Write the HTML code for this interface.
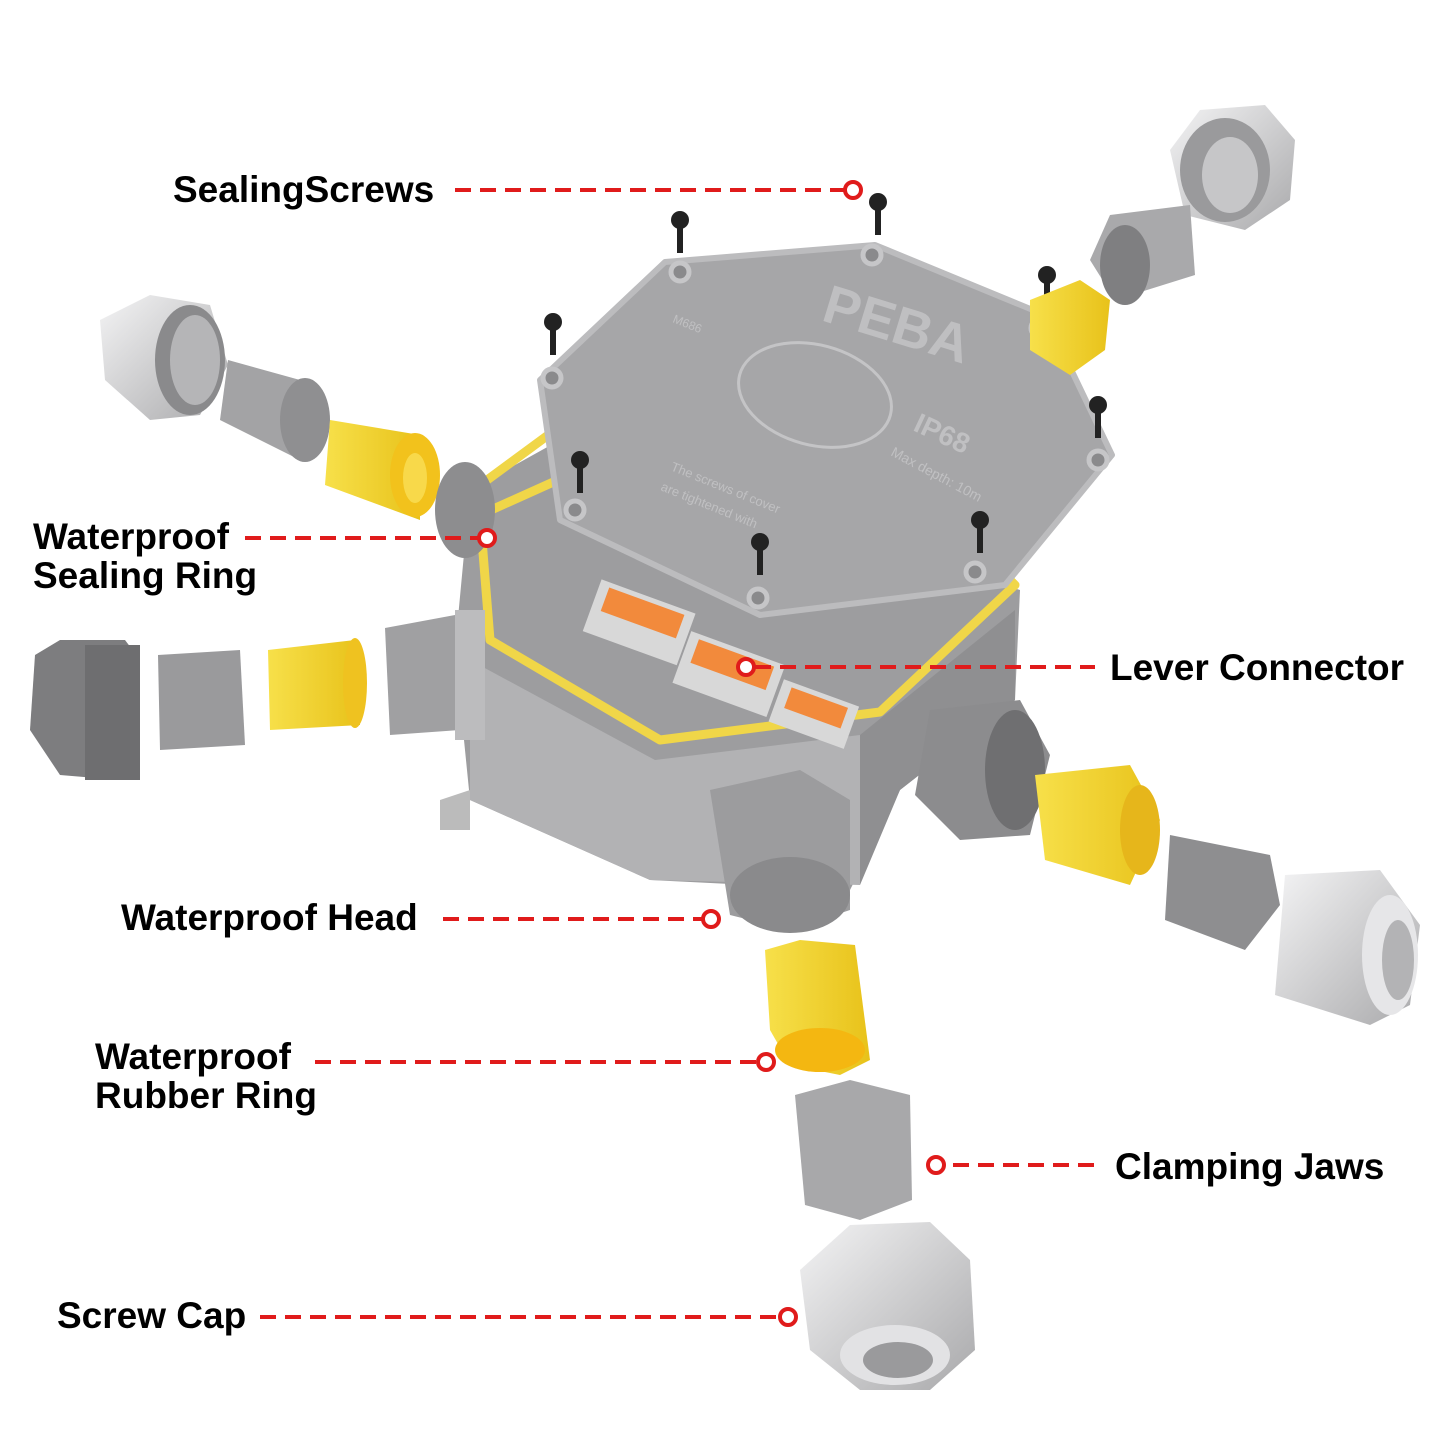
<!DOCTYPE html>
<html><head><meta charset="utf-8"><style>
html,body{margin:0;padding:0;background:#fff;}
svg{display:block}
.t{font-family:"Liberation Sans",Arial,sans-serif;font-weight:bold;font-size:37px;fill:#000}
.d{stroke:#e01b1b;stroke-width:4;stroke-dasharray:16 9;fill:none}
.c{stroke:#e01b1b;stroke-width:4;fill:#fff}
</style></head><body>
<svg width="1445" height="1445" viewBox="0 0 1445 1445" xmlns="http://www.w3.org/2000/svg">
<defs>
<linearGradient id="g1" x1="0" y1="0" x2="1" y2="1"><stop offset="0" stop-color="#c8c8ca"/><stop offset="1" stop-color="#8e8e90"/></linearGradient>
<linearGradient id="y1" x1="0" y1="0" x2="1" y2="0"><stop offset="0" stop-color="#f7e04a"/><stop offset="1" stop-color="#e8c21a"/></linearGradient>
<linearGradient id="w1" x1="0" y1="0" x2="1" y2="1"><stop offset="0" stop-color="#f4f4f5"/><stop offset="1" stop-color="#a9a9ab"/></linearGradient>
</defs>

<polygon points="455,650 470,490 560,440 1020,590 1015,700 900,790 850,890 650,880 470,800" fill="#9d9d9f"/>
<polygon points="470,660 655,760 860,735 860,885 650,880 470,800" fill="#b2b2b4"/>
<polygon points="860,735 1015,610 1015,700 900,790 860,885" fill="#8f8f91"/>
<polygon points="440,800 470,790 470,830 440,830" fill="#bbb"/>
<polyline points="460,500 555,430 600,445 580,470 480,515 490,640 660,740 880,712 1015,585 1010,580" fill="none" stroke="#f0d648" stroke-width="9" stroke-linejoin="round"/>
<g transform="rotate(20 640 620)"><rect x="590" y="595" width="100" height="55" fill="#d8d8d8"/><rect x="600" y="600" width="80" height="25" fill="#f28a3c"/></g>
<g transform="rotate(20 725 670)"><rect x="680" y="645" width="100" height="55" fill="#d8d8d8"/><rect x="690" y="650" width="80" height="25" fill="#f28a3c"/></g>
<g transform="rotate(20 810 710)"><rect x="775" y="690" width="80" height="45" fill="#d8d8d8"/><rect x="785" y="695" width="60" height="22" fill="#f28a3c"/></g>

<polygon points="540,380 665,262 875,245 1045,315 1112,455 1005,585 760,615 560,520" fill="#a6a6a8" stroke="#bcbcbe" stroke-width="6" stroke-linejoin="round"/>
<ellipse cx="815" cy="395" rx="78" ry="50" fill="none" stroke="#c4c4c6" stroke-width="3" transform="rotate(15 815 395)"/>
<text x="820" y="320" transform="rotate(17 820 320)" font-family="Liberation Sans,sans-serif" font-weight="bold" font-size="54" fill="#bfbfc1">PEBA</text>
<text x="912" y="430" transform="rotate(25 912 430)" font-family="Liberation Sans,sans-serif" font-weight="bold" font-size="28" fill="#c0c0c2">IP68</text>
<text x="890" y="455" transform="rotate(28 890 455)" font-family="Liberation Sans,sans-serif" font-size="14" fill="#c0c0c2">Max depth: 10m</text>
<text x="672" y="322" transform="rotate(22 672 322)" font-family="Liberation Sans,sans-serif" font-size="12" fill="#c0c0c2">M686</text>
<text x="670" y="470" transform="rotate(22 670 470)" font-family="Liberation Sans,sans-serif" font-size="13" fill="#c0c0c2">The screws of cover</text>
<text x="660" y="490" transform="rotate(22 660 490)" font-family="Liberation Sans,sans-serif" font-size="13" fill="#c0c0c2">are tightened with</text>
<g fill="#8a8a8c" stroke="#c6c6c8" stroke-width="5">
<circle cx="680" cy="272" r="9"/><circle cx="872" cy="255" r="9"/><circle cx="1040" cy="328" r="9"/><circle cx="1098" cy="460" r="9"/><circle cx="975" cy="572" r="9"/><circle cx="758" cy="598" r="9"/><circle cx="575" cy="510" r="9"/><circle cx="552" cy="378" r="9"/>
</g>
<g fill="#222">
<g><circle cx="680" cy="220" r="9"/><rect x="677" y="225" width="6" height="28"/></g>
<g><circle cx="878" cy="202" r="9"/><rect x="875" y="207" width="6" height="28"/></g>
<g><circle cx="553" cy="322" r="9"/><rect x="550" y="327" width="6" height="28"/></g>
<g><circle cx="1047" cy="275" r="9"/><rect x="1044" y="280" width="6" height="28"/></g>
<g><circle cx="1098" cy="405" r="9"/><rect x="1095" y="410" width="6" height="28"/></g>
<g><circle cx="580" cy="460" r="9"/><rect x="577" y="465" width="6" height="28"/></g>
<g><circle cx="980" cy="520" r="9"/><rect x="977" y="525" width="6" height="28"/></g>
<g><circle cx="760" cy="542" r="9"/><rect x="757" y="547" width="6" height="28"/></g>
</g>

<polygon points="100,320 150,295 210,305 228,365 200,415 150,420 105,380" fill="url(#w1)"/>
<ellipse cx="190" cy="360" rx="35" ry="55" fill="#8a8a8c"/>
<ellipse cx="195" cy="360" rx="25" ry="45" fill="#b5b5b7"/>
<polygon points="228,360 300,380 300,460 220,420" fill="#a3a3a5"/>
<ellipse cx="305" cy="420" rx="25" ry="42" fill="#8f8f91"/>
<polygon points="330,420 420,435 420,520 325,485" fill="url(#y1)"/>
<ellipse cx="415" cy="475" rx="25" ry="42" fill="#f2c21c"/>
<ellipse cx="415" cy="478" rx="12" ry="25" fill="#f8d94a"/>
<ellipse cx="465" cy="510" rx="30" ry="48" fill="#8d8d8f"/>

<polygon points="35,655 60,640 125,640 140,660 140,780 120,780 60,775 30,730" fill="#7d7d7f"/>
<rect x="85" y="645" width="55" height="135" fill="#6e6e70"/>
<polygon points="158,655 240,650 245,745 160,750" fill="#9a9a9c"/>
<polygon points="268,650 355,640 360,725 270,730" fill="url(#y1)"/>
<ellipse cx="355" cy="683" rx="12" ry="45" fill="#efc220"/>
<polygon points="385,628 455,615 460,730 390,735" fill="#a0a0a2"/>
<rect x="455" y="610" width="30" height="130" fill="#bcbcbe"/>

<polygon points="1170,150 1200,110 1265,105 1295,140 1290,200 1245,230 1185,215" fill="url(#w1)"/>
<ellipse cx="1225" cy="170" rx="45" ry="52" fill="#9a9a9c"/>
<ellipse cx="1230" cy="175" rx="28" ry="38" fill="#c6c6c8"/>
<polygon points="1110,215 1190,205 1195,275 1115,300 1090,260" fill="#a9a9ab"/>
<ellipse cx="1125" cy="265" rx="25" ry="40" fill="#7f7f81"/>
<polygon points="1030,300 1080,280 1110,300 1105,350 1070,375 1030,350" fill="url(#y1)"/>

<polygon points="930,710 1020,700 1050,755 1030,835 960,840 915,795" fill="#8c8c8e"/>
<ellipse cx="1015" cy="770" rx="30" ry="60" fill="#6f6f71"/>
<polygon points="1035,775 1130,765 1160,820 1130,885 1045,860" fill="url(#y1)"/>
<ellipse cx="1140" cy="830" rx="20" ry="45" fill="#e6b61b"/>
<polygon points="1170,835 1270,855 1280,905 1245,950 1165,920" fill="#8e8e90"/>
<polygon points="1285,875 1380,870 1420,925 1410,1005 1370,1025 1275,995" fill="url(#w1)"/>
<ellipse cx="1390" cy="955" rx="28" ry="60" fill="#e6e6e8"/>
<ellipse cx="1398" cy="960" rx="16" ry="40" fill="#b3b3b5"/>

<polygon points="710,790 800,770 850,800 850,910 790,930 730,915" fill="#9c9c9e"/>
<ellipse cx="790" cy="895" rx="60" ry="38" fill="#8a8a8c"/>
<polygon points="765,950 800,940 855,945 870,1060 840,1075 790,1065 770,1030" fill="url(#y1)"/>
<ellipse cx="820" cy="1050" rx="45" ry="22" fill="#f4b711"/>
<polygon points="795,1095 850,1080 910,1095 912,1200 860,1220 805,1205" fill="#a8a8aa"/>
<polygon points="800,1270 850,1225 930,1222 970,1260 975,1350 930,1390 860,1390 810,1350" fill="url(#w1)"/>
<ellipse cx="895" cy="1355" rx="55" ry="30" fill="#e2e2e4"/>
<ellipse cx="898" cy="1360" rx="35" ry="18" fill="#9a9a9c"/>

<text class="t" x="173" y="202">SealingScrews</text>
<line class="d" x1="455" y1="190" x2="845" y2="190"/><circle class="c" cx="853" cy="190" r="8"/>
<text class="t" x="33" y="549">Waterproof</text>
<text class="t" x="33" y="588">Sealing Ring</text>
<line class="d" x1="245" y1="538" x2="478" y2="538"/><circle class="c" cx="487" cy="538" r="8"/>
<text class="t" x="1110" y="680">Lever Connector</text>
<line class="d" x1="755" y1="667" x2="1095" y2="667"/><circle class="c" cx="746" cy="667" r="8"/>
<text class="t" x="121" y="930">Waterproof Head</text>
<line class="d" x1="443" y1="919" x2="703" y2="919"/><circle class="c" cx="711" cy="919" r="8"/>
<text class="t" x="95" y="1069">Waterproof</text>
<text class="t" x="95" y="1108">Rubber Ring</text>
<line class="d" x1="315" y1="1062" x2="757" y2="1062"/><circle class="c" cx="766" cy="1062" r="8"/>
<text class="t" x="1115" y="1179">Clamping Jaws</text>
<line class="d" x1="953" y1="1165" x2="1100" y2="1165"/><circle class="c" cx="936" cy="1165" r="8"/>
<text class="t" x="57" y="1328">Screw Cap</text>
<line class="d" x1="260" y1="1317" x2="780" y2="1317"/><circle class="c" cx="788" cy="1317" r="8"/>
</svg>
</body></html>
